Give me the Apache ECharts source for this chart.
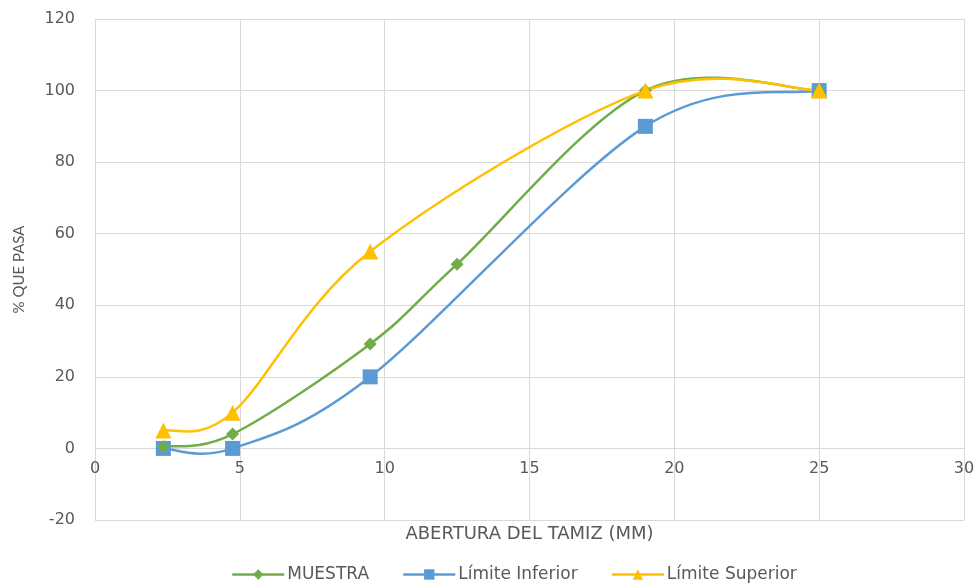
<!DOCTYPE html>
<html><head><meta charset="utf-8">
<script src="https://cdn.jsdelivr.net/npm/echarts@6/dist/echarts.min.js"></script>
<style>html,body{margin:0;padding:0;background:#fff}#c{width:976px;height:584px}</style>
</head><body><div id="c"></div>
<script>
const muestraX = [2.36, 4.75, 9.5, 12.5, 19, 25];
const muestraY = [0.5, 4, 29.2, 51.5, 100, 100];
const inferiorX = [2.36, 4.75, 9.5, 19, 25];
const inferiorY = [0, 0, 20, 90, 100];
const superiorX = [2.36, 4.75, 9.5, 19, 25];
const superiorY = [5, 10, 55, 100, 100];
const seriesNames = ['MUESTRA', 'Límite Inferior', 'Límite Superior'];
const xTitle = 'ABERTURA DEL TAMIZ (MM)';
const yTitle = '% QUE PASA';

const colors = ['#70AD47', '#5B9BD5', '#FFC000'];
const zip = (xs, ys) => xs.map((x, i) => [x, ys[i]]);
const font = 'Lato, "Open Sans", sans-serif';
const wideFont = '"DejaVu Sans", sans-serif';
const yMin = -20, yMax = 120;
const gridTop = 19, gridBottom = 64, H = 584;
// x axis sits on the y = 0 line
const plotH = H - gridTop - gridBottom;
const zeroOffset = -plotH * (0 - yMin) / (yMax - yMin);

// Excel-like smoothed curve (Catmull-Rom Bezier) drawn through the axis scales
function curveSeries(data, color, z) {
  return {
    type: 'custom', silent: true, z: z, legendHoverLink: false,
    data: data,
    renderItem: function (params, api) {
      const i = params.dataIndex;
      if (i >= data.length - 1) return null;
      const p = data.map(d => api.coord(d));
      const p0 = p[Math.max(i - 1, 0)], p1 = p[i], p2 = p[i + 1], p3 = p[Math.min(i + 2, p.length - 1)];
      const c1 = [p1[0] + (p2[0] - p0[0]) / 6, p1[1] + (p2[1] - p0[1]) / 6];
      const c2 = [p2[0] - (p3[0] - p1[0]) / 6, p2[1] - (p3[1] - p1[1]) / 6];
      return {
        type: 'bezierCurve',
        shape: {x1: p1[0], y1: p1[1], x2: p2[0], y2: p2[1], cpx1: c1[0], cpy1: c1[1], cpx2: c2[0], cpy2: c2[1]},
        style: {stroke: color, lineWidth: 2.5, fill: null}
      };
    }
  };
}

const chart = echarts.init(document.getElementById('c'));
chart.setOption({
  animation: false,
  grid: {left: 95, right: 12, top: gridTop, bottom: gridBottom, outerBoundsMode: 'none', containLabel: false},
  xAxis: {
    type: 'value', min: 0, max: 30, interval: 5,
    offset: zeroOffset,
    axisLine: {show: false, onZero: false},
    axisTick: {show: false},
    axisLabel: {color: '#595959', fontSize: 16, fontFamily: wideFont, margin: 12},
    splitLine: {lineStyle: {color: '#d9d9d9'}},
    name: xTitle, nameLocation: 'middle', nameGap: 77,
    nameTextStyle: {color: '#595959', fontSize: 18, fontFamily: wideFont}
  },
  yAxis: {
    type: 'value', min: yMin, max: yMax, interval: 20,
    axisLine: {show: false}, axisTick: {show: false},
    axisLabel: {color: '#595959', fontSize: 16, fontFamily: wideFont, margin: 20},
    splitLine: {lineStyle: {color: '#d9d9d9'}},
    name: yTitle, nameLocation: 'middle', nameGap: 68, nameRotate: 90,
    nameTextStyle: {color: '#595959', fontSize: 15, fontFamily: font}
  },
  legend: {
    top: 561, left: 226, itemGap: 33, itemWidth: 52, itemHeight: 13,
    textStyle: {color: '#595959', fontSize: 17, fontFamily: wideFont, padding: [0, 0, 0, -2]},
    data: seriesNames.map((n, k) => ({name: n, lineStyle: {color: colors[k], width: 2.5, opacity: 1}}))
  },
  series: [
    curveSeries(zip(muestraX, muestraY), colors[0], 3),
    curveSeries(zip(inferiorX, inferiorY), colors[1], 2),
    curveSeries(zip(superiorX, superiorY), colors[2], 4),
    {name: seriesNames[0], type: 'line', data: zip(muestraX, muestraY),
     symbol: 'diamond', symbolSize: 13, color: colors[0], lineStyle: {width: 2.5, opacity: 0}, z: 6},
    {name: seriesNames[1], type: 'line', data: zip(inferiorX, inferiorY),
     symbol: 'rect', symbolSize: 15, color: colors[1], lineStyle: {width: 2.5, opacity: 0}, z: 5},
    {name: seriesNames[2], type: 'line', data: zip(superiorX, superiorY),
     symbol: 'triangle', symbolSize: 16, color: colors[2], lineStyle: {width: 2.5, opacity: 0}, z: 7}
  ]
});
</script></body></html>
